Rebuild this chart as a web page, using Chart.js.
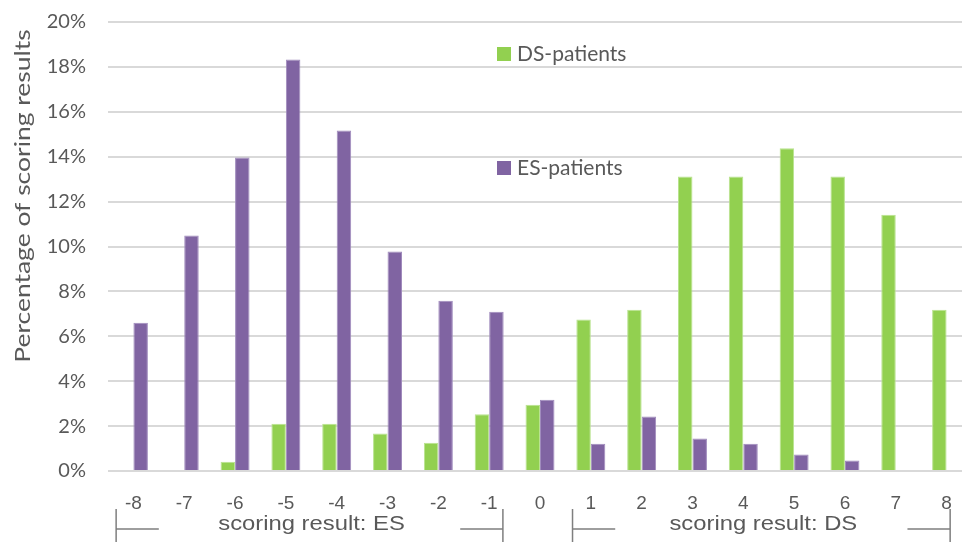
<!DOCTYPE html>
<html>
<head>
<meta charset="utf-8">
<script src="https://cdn.jsdelivr.net/npm/chart.js@4/dist/chart.umd.min.js"></script>
<style>
  html, body { margin: 0; padding: 0; background: #ffffff; overflow: hidden; }
  #wrap { width: 975px; height: 542px; }
</style>
</head>
<body>
<div id="wrap"><canvas id="chart" width="975" height="542"></canvas></div>
<script>
// Scoring results on the x axis (negative = ES side, positive = DS side)
const scores = ['-8', '-7', '-6', '-5', '-4', '-3', '-2', '-1', '0', '1', '2', '3', '4', '5', '6', '7', '8'];

// Percentage of scoring results per patient group
const dsPatients = [0, 0, 0.41, 2.10, 2.10, 1.67, 1.26, 2.53, 2.95, 6.75, 7.18, 13.12, 13.12, 14.38, 13.12, 11.41, 7.18];
const esPatients = [6.60, 10.49, 13.96, 18.33, 15.17, 9.78, 7.58, 7.09, 3.17, 1.21, 2.43, 1.45, 1.21, 0.73, 0.47, 0, 0];

// Series names and colours
const seriesNames = ['DS-patients', 'ES-patients'];
const seriesColors = ['#92D050', '#8064A2'];
const seriesEdges = ['#B9E38F', '#A08BBD'];

// Group captions below the x axis: [first score index, last score index, caption]
const groups = [
  [0, 7, 'scoring result: ES'],
  [9, 16, 'scoring result: DS']
];

const axisTitle = 'Percentage of scoring results';
const textColor = '#595959';
const gridColor = '#D9D9D9';
const bodyFont = 'Lato, "Open Sans", sans-serif';
const tickFont = '"Liberation Sans", Arial, sans-serif';

// Draws the in-plot legend, the rotated y title and the bracketed group captions
const decorations = {
  id: 'decorations',
  afterDraw(chart) {
    const ctx = chart.ctx;
    const x = chart.scales.x;
    const step = x.getPixelForValue(1) - x.getPixelForValue(0);
    ctx.save();

    // legend entries inside the plot
    const legendRows = [47, 161];
    ctx.font = '21px ' + bodyFont;
    ctx.textBaseline = 'middle';
    ctx.textAlign = 'left';
    seriesNames.forEach((name, i) => {
      ctx.fillStyle = seriesColors[i];
      ctx.fillRect(497, legendRows[i], 14, 14);
      ctx.fillStyle = textColor;
      ctx.fillText(name, 517, legendRows[i] + 7);
    });

    // y axis title, set along the upper part of the axis
    ctx.save();
    ctx.translate(23, 196);
    ctx.rotate(-Math.PI / 2);
    ctx.scale(1.26, 1);
    ctx.font = '21px ' + bodyFont;
    ctx.textAlign = 'center';
    ctx.textBaseline = 'middle';
    ctx.fillStyle = textColor;
    ctx.fillText(axisTitle, 0, 0);
    ctx.restore();

    // bracketed captions
    const ends = [[-0.34, 0.27], [-0.36, 0.07]];
    ctx.strokeStyle = '#7F7F7F';
    ctx.lineWidth = 1.5;
    ctx.fillStyle = textColor;
    ctx.font = '20px ' + tickFont;
    ctx.textAlign = 'center';
    ctx.textBaseline = 'alphabetic';
    groups.forEach((g, i) => {
      const left = x.getPixelForValue(g[0]) + ends[i][0] * step;
      const right = x.getPixelForValue(g[1]) + ends[i][1] * step;
      const yMid = 529;
      ctx.beginPath();
      ctx.moveTo(left, 509); ctx.lineTo(left, 542);
      ctx.moveTo(left, yMid); ctx.lineTo(left + 0.84 * step, yMid);
      ctx.moveTo(right, 509); ctx.lineTo(right, 542);
      ctx.moveTo(right, yMid); ctx.lineTo(right - 0.84 * step, yMid);
      ctx.stroke();
      ctx.save();
      ctx.translate((left + right) / 2 + 2, 530);
      ctx.scale(1.19, 1);
      ctx.fillText(g[2], 0, 0);
      ctx.restore();
    });
    ctx.restore();
  }
};

new Chart(document.getElementById('chart'), {
  type: 'bar',
  data: {
    labels: scores,
    datasets: [
      {
        label: seriesNames[0],
        data: dsPatients,
        backgroundColor: seriesColors[0],
        borderColor: seriesEdges[0],
        borderWidth: 1
      },
      {
        label: seriesNames[1],
        data: esPatients,
        backgroundColor: seriesColors[1],
        borderColor: seriesEdges[1],
        borderWidth: 1
      }
    ]
  },
  options: {
    responsive: false,
    animation: false,
    events: [],
    layout: { padding: { top: 22, right: 3, left: 0, bottom: 0 } },
    datasets: { bar: { barPercentage: 1, categoryPercentage: 0.57 } },
    plugins: {
      legend: { display: false },
      tooltip: { enabled: false }
    },
    scales: {
      x: {
        grid: { display: false, drawTicks: false },
        border: { display: false },
        ticks: { color: textColor, font: { family: tickFont, size: 19 }, padding: 21, maxRotation: 0 },
        afterFit(scale) { scale.height = 71; }
      },
      y: {
        min: 0,
        max: 20,
        grid: { color: gridColor, lineWidth: 2, drawTicks: false },
        border: { display: false },
        ticks: {
          stepSize: 2,
          color: textColor,
          font: { family: bodyFont, size: 20 },
          padding: 22,
          callback: v => v + '%'
        },
        afterFit(scale) {
          scale.width = 108;
          scale.paddingTop = 0;
          scale.paddingBottom = 0;
        }
      }
    }
  },
  plugins: [decorations]
});
</script>
</body>
</html>
